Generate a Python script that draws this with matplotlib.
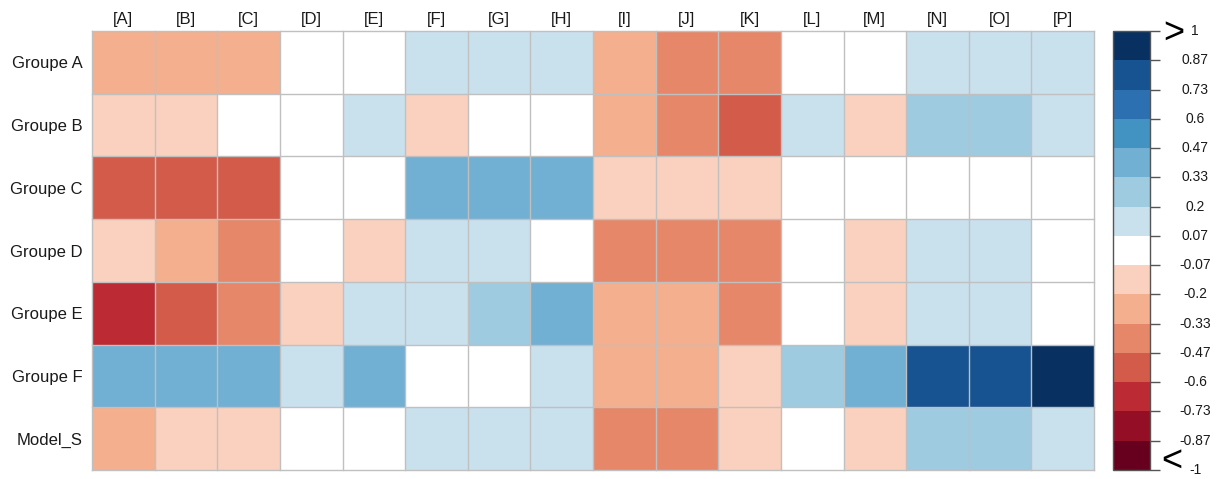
import matplotlib
matplotlib.use("Agg")
import matplotlib.pyplot as plt
import numpy as np
from matplotlib.colors import ListedColormap, BoundaryNorm
from matplotlib.cm import ScalarMappable

plt.rcParams['font.family'] = ['Liberation Sans', 'DejaVu Sans']

rows = ["Groupe A", "Groupe B", "Groupe C", "Groupe D", "Groupe E", "Groupe F", "Model_S"]
cols = ["[A]", "[B]", "[C]", "[D]", "[E]", "[F]", "[G]", "[H]",
        "[I]", "[J]", "[K]", "[L]", "[M]", "[N]", "[O]", "[P]"]

groupe_a = [-0.27, -0.26, -0.25, 0.0, 0.0, 0.12, 0.13, 0.14, -0.28, -0.41, -0.39, 0.0, 0.0, 0.13, 0.12, 0.14]
groupe_b = [-0.14, -0.13, 0.0, 0.0, 0.12, -0.12, 0.0, 0.0, -0.27, -0.40, -0.55, 0.13, -0.13, 0.26, 0.27, 0.12]
groupe_c = [-0.54, -0.55, -0.53, 0.0, 0.0, 0.40, 0.41, 0.39, -0.14, -0.13, -0.15, 0.0, 0.0, 0.0, 0.0, 0.0]
groupe_d = [-0.13, -0.26, -0.40, 0.0, -0.12, 0.13, 0.14, 0.0, -0.41, -0.40, -0.42, 0.0, -0.13, 0.12, 0.13, 0.0]
groupe_e = [-0.68, -0.54, -0.41, -0.14, 0.13, 0.12, 0.27, 0.41, -0.28, -0.27, -0.40, 0.0, -0.13, 0.13, 0.12, 0.0]
groupe_f = [0.40, 0.41, 0.40, 0.13, 0.42, 0.0, 0.0, 0.12, -0.27, -0.26, -0.14, 0.27, 0.40, 0.79, 0.80, 0.93]
model_s = [-0.26, -0.14, -0.13, 0.0, 0.0, 0.13, 0.12, 0.13, -0.41, -0.40, -0.13, 0.0, -0.12, 0.26, 0.27, 0.13]

values = np.array([groupe_a, groupe_b, groupe_c, groupe_d, groupe_e, groupe_f, model_s])

bounds = [-1, -0.87, -0.73, -0.6, -0.47, -0.33, -0.2, -0.07,
          0.07, 0.2, 0.33, 0.47, 0.6, 0.73, 0.87, 1]
bound_labels = ["-1", "-0.87", "-0.73", "-0.6", "-0.47", "-0.33", "-0.2", "-0.07",
                "0.07", "0.2", "0.33", "0.47", "0.6", "0.73", "0.87", "1"]
palette = ["#67001F", "#940F26", "#BC2B33", "#D35B4A", "#E6876A", "#F4AF8E", "#FAD1BE",
           "#FFFFFF",
           "#C9E0ED", "#9ECBE0", "#71AFD3", "#4292C2", "#2C70B2", "#185391", "#083060"]

cmap = ListedColormap(palette)
norm = BoundaryNorm(bounds, cmap.N)

W, H = 1218, 479
fig = plt.figure(figsize=(W / 100, H / 100), dpi=100)

# main heat grid
x0, x1, y0, y1 = 92, 1094, 31, 470
ax = fig.add_axes([x0 / W, 1 - y1 / H, (x1 - x0) / W, (y1 - y0) / H])
nr, nc = values.shape
ax.pcolormesh(np.arange(nc + 1), np.arange(nr + 1), values, cmap=cmap, norm=norm,
              edgecolor="none", linewidth=0)
for i in range(nr + 1):
    ax.axhline(i, color="#C0C0C0", linewidth=1.0, clip_on=False)
for j in range(nc + 1):
    ax.axvline(j, color="#C0C0C0", linewidth=1.0, clip_on=False)
ax.set_xlim(0, nc)
ax.set_ylim(nr, 0)
for s in ax.spines.values():
    s.set_visible(False)
ax.xaxis.tick_top()
ax.set_xticks(np.arange(nc) + 0.5)
ax.set_xticklabels(cols, fontsize=12, color="#1a1a1a")
ax.set_yticks(np.arange(nr) + 0.5)
ax.set_yticklabels(rows, fontsize=12, color="#1a1a1a")
ax.tick_params(axis="x", length=0, pad=3)
ax.tick_params(axis="y", length=0, pad=7)

# colour key
cx0, cx1 = 1113, 1150
cax = fig.add_axes([cx0 / W, 1 - y1 / H, (cx1 - cx0) / W, (y1 - y0) / H])
sm = ScalarMappable(norm=norm, cmap=cmap)
cb = fig.colorbar(sm, cax=cax, boundaries=bounds, ticks=bounds, spacing="uniform")
cb.outline.set_edgecolor("#555555")
cb.outline.set_linewidth(1.0)
cb.ax.tick_params(length=7, width=1, color="#555555")
cb.ax.set_yticklabels([""] * len(bounds))
fig.canvas.draw()
for b, lab in zip(bounds, bound_labels):
    y = cax.transData.transform((0, b))[1]
    fig.text(1195 / W, y / H, lab, ha="center", va="center", fontsize=10,
             color="#1a1a1a")
fig.text(1174 / W, 1 - 33 / H, ">", ha="center", va="center", fontsize=26)
fig.text(1172 / W, 1 - 461 / H, "<", ha="center", va="center", fontsize=26)

fig.savefig("out.png", dpi=100)
